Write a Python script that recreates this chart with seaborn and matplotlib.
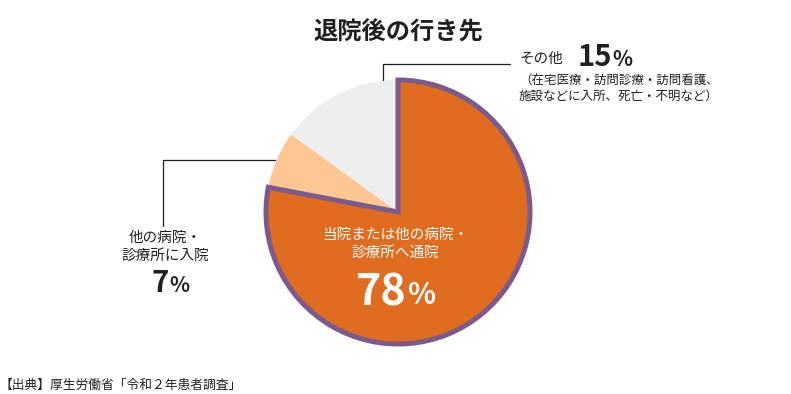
import matplotlib
matplotlib.use("Agg")
import matplotlib.pyplot as plt
import seaborn as sns

# data
categories = ["当院または他の病院・\n診療所へ通院", "他の病院・\n診療所に入院", "その他"]
shares = [78, 7, 15]
slice_colors = ["#E06C20", "#FDC793", "#EEEEEE"]
title = "退院後の行き先"
other_note = "（在宅医療・訪問診療・訪問看護、\n施設などに入所、死亡・不明など）"
source = "【出典】厚生労働省「令和２年患者調査」"

W, H = 791, 394
sns.set_theme(style="white")
plt.rcParams["font.family"] = ["Noto Sans CJK JP", "DejaVu Sans"]


def Y(y):
    # image row -> data y
    return H - y


fig = plt.figure(figsize=(W / 100, H / 100), dpi=100)
ax = fig.add_axes([0, 0, 1, 1])

wedges, _ = ax.pie(shares, colors=slice_colors, startangle=90, counterclock=False,
                   center=(398, Y(212)), radius=132, frame=True,
                   wedgeprops=dict(linewidth=0))
ax.set_xlim(0, W)
ax.set_ylim(0, H)
ax.set_aspect("equal")
ax.axis("off")
wedges[0].set_edgecolor("#7B5A8E")
wedges[0].set_linewidth(3.6)
wedges[0].set_zorder(5)

ink = "#231F20"
txt = dict(zorder=10)
ax.text(398, Y(32), title, ha="center", va="center", fontsize=17.5, fontweight="bold",
        color=ink, **txt)

# main slice label
ax.text(395, Y(244), categories[0], ha="center", va="center", fontsize=10.5,
        color="white", linespacing=1.35, **txt)
ax.text(407, Y(292), str(shares[0]), ha="right", va="center", fontsize=31,
        fontweight="bold", color="white", **txt)
ax.text(407.5, Y(295), "%", ha="left", va="center", fontsize=21, fontweight="bold",
        color="white", **txt)

# left label with leader
ax.plot([275, 163, 163], [Y(160), Y(160), Y(226)], color=ink, lw=0.9, zorder=6)
ax.text(165, Y(247), categories[1], ha="center", va="center", fontsize=10.5,
        color=ink, linespacing=1.35, **txt)
ax.text(169, Y(283), str(shares[1]), ha="right", va="center", fontsize=21,
        fontweight="bold", color=ink, **txt)
ax.text(169.5, Y(285), "%", ha="left", va="center", fontsize=15, fontweight="bold",
        color=ink, **txt)

# right label with leader
ax.plot([383, 383, 510], [Y(80), Y(64), Y(64)], color=ink, lw=0.9, zorder=6)
ax.text(520, Y(59), categories[2], ha="left", va="center", fontsize=10.5, color=ink, **txt)
ax.text(612, Y(57), str(shares[2]), ha="right", va="center", fontsize=21,
        fontweight="bold", color=ink, **txt)
ax.text(612.5, Y(59), "%", ha="left", va="center", fontsize=15, fontweight="bold",
        color=ink, **txt)
ax.text(519, Y(89), other_note, ha="left", va="center", fontsize=9,
        color=ink, linespacing=1.2, **txt)

ax.text(0, Y(385), source, ha="left", va="center", fontsize=9.2, color=ink, **txt)

fig.savefig("out.png", dpi=100)
